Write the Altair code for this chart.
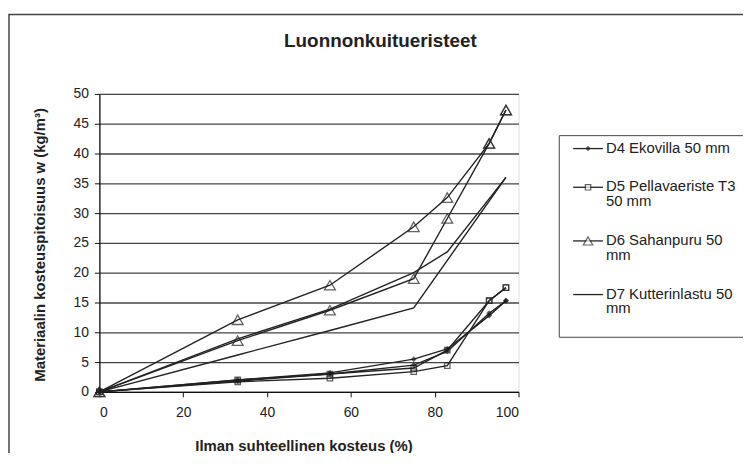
import altair as alt
import pandas as pd

# ---------------- data ----------------
rh = [0, 33, 55, 75, 83, 93, 97]

d4_a = [0, 2.0, 3.2, 5.5, 7.2, 12.8, 15.3]
d4_b = [0, 1.8, 3.0, 4.5, 6.8, 13.2, 15.3]
d5_a = [0, 1.7, 2.3, 3.4, 4.4, 15.3, 17.5]
d5_b = [0, 2.0, 3.0, 4.0, 7.0, 15.3, 17.5]
d6_a = [0, 12.1, 17.9, 27.7, 32.6, 41.7, 47.3]
d6_b = [0, 8.6, 13.7, 19.0, 29.1, 41.7, 47.3]
rh_d7_a = [0, 33, 55, 75, 97]
d7_a = [0, 6.2, 10.3, 14.1, 36.0]
rh_d7_b = [0, 33, 55, 75, 83, 97]
d7_b = [0, 8.9, 13.9, 20.0, 23.5, 36.0]

series_names = ["D4 Ekovilla 50 mm", "D5 Pellavaeriste T3 50 mm",
                "D6 Sahanpuru 50 mm", "D7 Kutterinlastu 50 mm"]
legend_labels = ["D4 Ekovilla 50 mm", "D5 Pellavaeriste T3\n50 mm",
                 "D6 Sahanpuru 50\nmm", "D7 Kutterinlastu 50\nmm"]
title_text = "Luonnonkuitueristeet"
x_title = "Ilman suhteellinen kosteus (%)"
y_title = "Materiaalin kosteuspitoisuus w (kg/m³)"
x_ticks = [0, 20, 40, 60, 80, 100]
y_ticks = [0, 5, 10, 15, 20, 25, 30, 35, 40, 45, 50]

rows = []
def add(series, rep, xs, ys):
    for xv, yv in zip(xs, ys):
        rows.append({"sarja": series, "toisto": rep, "rh": xv, "w": yv})

add(series_names[0], "D4a", rh, d4_a)
add(series_names[0], "D4b", rh, d4_b)
add(series_names[1], "D5a", rh, d5_a)
add(series_names[1], "D5b", rh, d5_b)
add(series_names[2], "D6a", rh, d6_a)
add(series_names[2], "D6b", rh, d6_b)
add(series_names[3], "D7a", rh_d7_a, d7_a)
add(series_names[3], "D7b", rh_d7_b, d7_b)
df = pd.DataFrame(rows)

FONT = "Liberation Sans"
INK = "#222222"

x_enc = alt.X("rh:Q", scale=alt.Scale(domain=[0, 100], nice=False),
              axis=alt.Axis(values=x_ticks, title=None, grid=False, tickSize=5,
                            labelFontSize=14, labelPadding=9, labelFont=FONT,
                            labelColor=INK, domainColor="#111", tickColor="#111",
                            domainWidth=1.3, labelOverlap=False))
y_enc = alt.Y("w:Q", scale=alt.Scale(domain=[0, 50], nice=False),
              axis=alt.Axis(values=y_ticks, title=None, grid=True, gridColor="#444",
                            gridWidth=1.3, tickSize=5, labelFontSize=14, labelPadding=6,
                            labelFont=FONT, labelColor=INK, domainColor="#111",
                            tickColor="#111", domainWidth=1.3, labelOverlap=False))

base = alt.Chart(df)
lines = base.mark_line(color="#222", strokeWidth=1.4).encode(
    x=x_enc, y=y_enc, detail="toisto:N")

pts_d4 = base.transform_filter(alt.datum.sarja == series_names[0]).mark_point(
    shape="diamond", size=34, filled=True, color="#1a1a1a").encode(x=x_enc, y=y_enc)
pts_d5 = base.transform_filter(alt.datum.sarja == series_names[1]).mark_point(
    shape="square", size=30, filled=False, color="#222", strokeWidth=1.3).encode(x=x_enc, y=y_enc)
pts_d6 = base.transform_filter(alt.datum.sarja == series_names[2]).mark_point(
    shape="triangle-up", size=120, filled=False, color="#222", strokeWidth=1.3).encode(x=x_enc, y=y_enc)

one = pd.DataFrame({"k": [0]})

frame = alt.Chart(one).mark_rect(filled=False, stroke="#444", strokeWidth=1.5).encode(
    x=alt.value(-91), x2=alt.value(700), y=alt.value(-80), y2=alt.value(420))

title = alt.Chart(one).mark_text(font=FONT, fontSize=19, fontWeight="bold", color=INK,
                                 align="center", baseline="middle").encode(
    x=alt.value(283), y=alt.value(-53), text=alt.value(title_text))
xt = alt.Chart(one).mark_text(font=FONT, fontSize=15, fontWeight="bold", color=INK,
                              align="center", baseline="middle").encode(
    x=alt.value(206), y=alt.value(355), text=alt.value(x_title))
yt = alt.Chart(one).mark_text(font=FONT, fontSize=15, fontWeight="bold", color=INK,
                              align="center", baseline="middle", angle=270).encode(
    x=alt.value(-60), y=alt.value(152), text=alt.value(y_title))

# legend box
leg_box = alt.Chart(one).mark_rect(fill="white", stroke="#444", strokeWidth=1).encode(
    x=alt.value(463), x2=alt.value(700), y=alt.value(42), y2=alt.value(245))

leg_layers = [leg_box]
entry_y = [55, 94, 148, 202]
shapes = ["diamond", "square", "triangle-up", None]
sizes = [30, 30, 90, 0]
for i, lab in enumerate(legend_labels):
    yy = entry_y[i]
    leg_layers.append(alt.Chart(one).mark_rule(color="#222", strokeWidth=1.3).encode(
        x=alt.value(477), x2=alt.value(507), y=alt.value(yy)))
    if shapes[i] is not None:
        leg_layers.append(alt.Chart(one).mark_point(
            shape=shapes[i], size=sizes[i], filled=(i == 0),
            fill="#222" if i == 0 else "white", color="#222", strokeWidth=1.2).encode(
            x=alt.value(492), y=alt.value(yy)))
    leg_layers.append(alt.Chart(one).mark_text(
        font=FONT, fontSize=15, color=INK, align="left", baseline="top",
        lineBreak="\n", lineHeight=15).encode(
        x=alt.value(510), y=alt.value(yy - 8), text=alt.value(lab)))

chart = alt.layer(frame, lines, pts_d4, pts_d5, pts_d6, title, xt, yt, *leg_layers).properties(
    width=422, height=300,
    autosize=alt.AutoSizeParams(type="none"),
    padding={"left": 92, "top": 85, "right": 226, "bottom": 60},
).configure_view(stroke="#888", strokeWidth=1).configure(background="white")

chart.save("out.html", embed_options={"renderer": "svg", "actions": False})
